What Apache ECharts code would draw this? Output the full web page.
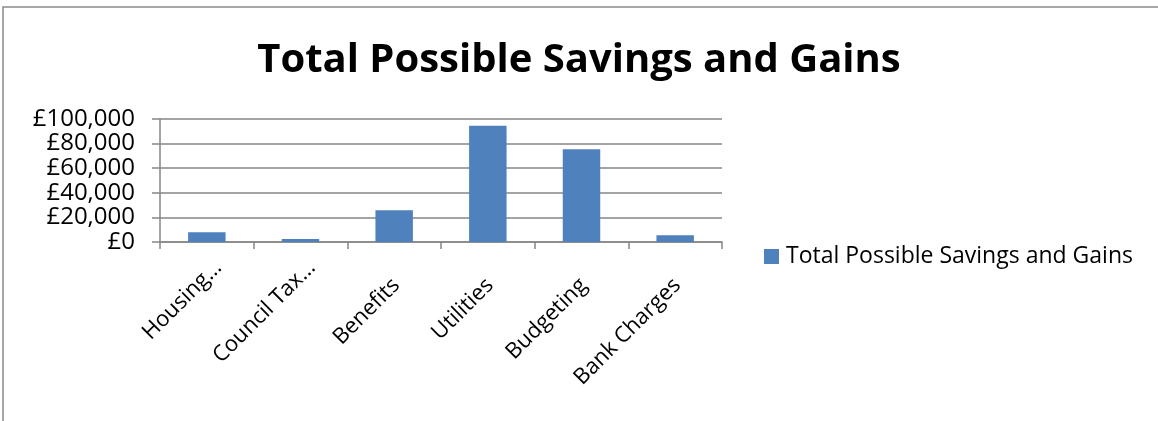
<!DOCTYPE html>
<html>
<head>
<meta charset="utf-8">
<script src="https://cdn.jsdelivr.net/npm/echarts@6/dist/echarts.min.js"></script>
<style>
  html, body { margin: 0; padding: 0; background: #ffffff; }
  #chart { width: 1158px; height: 421px; }
</style>
</head>
<body>
<div id="chart"></div>
<script>
const titleText = 'Total Possible Savings and Gains';
const categories = ['Housing…', 'Council Tax…', 'Benefits', 'Utilities', 'Budgeting', 'Bank Charges'];
const seriesName = 'Total Possible Savings and Gains';
const values = [7900, 2400, 25800, 94500, 75400, 5400];
const yMin = 0;
const yMax = 100000;
const yInterval = 20000;

const FONT = 'Open Sans';
// Excel places truncated labels further along their direction than full ones
const labelBase = { align: 'right', verticalAlign: 'top', lineHeight: 22, fontFamily: FONT, fontSize: 22, color: '#000000' };
const xAxisData = categories.map(c => ({
  value: c,
  textStyle: Object.assign({}, labelBase,
    c.endsWith('…') ? { padding: [5, 0, 0, 0] } : { padding: [11, 19, 0, 0] })
}));

const chart = echarts.init(document.getElementById('chart'), null, { renderer: 'canvas' });
chart.setOption({
  animation: false,
  backgroundColor: '#ffffff',
  title: {
    text: titleText,
    left: 'center',
    top: 36,
    textStyle: { fontFamily: FONT, fontWeight: 'bold', fontSize: 40, color: '#000000' }
  },
  graphic: [{
    type: 'rect',
    shape: { x: 3, y: 7, width: 1180, height: 440 },
    style: { fill: 'none', stroke: '#8a8a8a', lineWidth: 1.5 },
    silent: true
  }],
  legend: {
    left: 759,
    top: 240,
    icon: 'rect',
    itemWidth: 15,
    itemHeight: 15,
    itemGap: 8,
    textStyle: { fontFamily: FONT, fontSize: 23, color: '#000000', padding: [0, 0, 0, 2] },
    data: [seriesName]
  },
  grid: { left: 160, right: 436, top: 119, bottom: 179, containLabel: false },
  xAxis: {
    type: 'category',
    data: xAxisData,
    axisLine: { lineStyle: { color: '#868686', width: 1.5 } },
    axisTick: { show: true, alignWithLabel: false, length: 7, lineStyle: { color: '#868686', width: 1.5 } },
    axisLabel: { rotate: 45, interval: 0, margin: 11, align: 'right', verticalAlign: 'top', fontFamily: FONT, fontSize: 22, color: '#000000' }
  },
  yAxis: {
    type: 'value',
    min: yMin,
    max: yMax,
    interval: yInterval,
    axisLine: { show: true, lineStyle: { color: '#868686', width: 1.5 } },
    axisTick: { show: true, length: 8, lineStyle: { color: '#868686', width: 1.5 } },
    splitLine: { lineStyle: { color: '#868686', width: 1.5 } },
    axisLabel: {
      margin: 25,
      fontFamily: FONT,
      fontSize: 24,
      color: '#000000',
      formatter: v => '£' + v.toLocaleString('en-GB')
    }
  },
  series: [{
    name: seriesName,
    type: 'bar',
    data: values,
    barWidth: '40%',
    itemStyle: { color: '#4F81BD' }
  }]
});
</script>
</body>
</html>
